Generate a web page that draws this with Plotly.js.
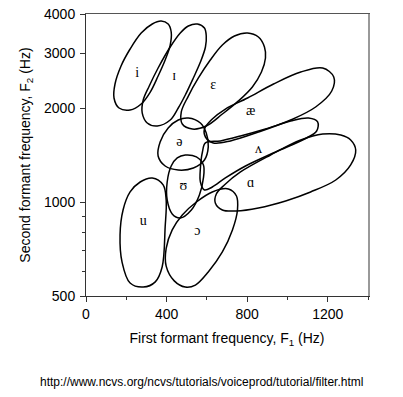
<!DOCTYPE html>
<html><head><meta charset="utf-8">
<script src="https://cdn.plot.ly/plotly-3.0.1.min.js"></script>
<style>body{margin:0;background:#fff}</style>
</head><body>
<div id="chart" style="width:403px;height:397px"></div>
<script>
// Vowel regions: first formant F1 (Hz) and second formant F2 (Hz) outline points
const i_F1 = [373,408,423,418,393,358,319,274,219,164,139,144,174,219,274,329];
const i_F2 = [3798,3716,3503,3182,2849,2532,2250,2060,1971,2000,2153,2387,2726,3090,3477,3716];

const smallI_F1 = [553,588,597,593,568,533,493,458,418,354,304,279,284,314,358,418,468,508];
const smallI_F2 = [3716,3607,3400,3136,2806,2496,2201,2000,1830,1751,1790,1928,2122,2353,2686,3136,3477,3661];

const eps_F1 = [802,856,886,891,871,826,757,677,597,528,478,473,508,558,617,677,737];
const eps_F2 = [3477,3375,3136,2892,2607,2336,2107,1913,1751,1713,1777,1942,2184,2496,2849,3182,3400];

const ae_F1 = [593,588,627,692,802,931,1066,1175,1230,1220,1140,1016,856,717,632];
const ae_F2 = [1615,1713,1844,1985,2153,2387,2607,2686,2514,2267,2015,1830,1675,1569,1546];

const wedge_F1 = [593,667,767,891,1016,1105,1150,1145,1095,941,792,692,627,588,568,568,578];
const wedge_F2 = [1546,1569,1627,1713,1817,1857,1804,1688,1603,1446,1304,1194,1117,1093,1159,1285,1446];

const scriptA_F1 = [1314,1339,1314,1240,1115,991,856,747,677,642,647,687,767,916,1066,1175,1265];
const scriptA_F2 = [1580,1467,1314,1176,1077,1008,957,936,943,993,1061,1134,1248,1414,1580,1651,1639];

const schwa_F1 = [508,568,597,607,588,533,458,393,358,368,408,458];
const schwa_F2 = [1857,1790,1664,1501,1363,1285,1266,1304,1404,1557,1726,1830];

const upsilon_F1 = [493,548,583,583,563,523,468,428,403,403,423,453];
const upsilon_F2 = [1414,1394,1314,1194,1053,943,889,916,1015,1159,1304,1384];

const u_F1 = [329,383,398,393,378,344,284,219,179,169,184,219,269];
const u_F2 = [1194,1134,1015,832,619,555,534,550,642,784,943,1077,1159];

const openO_F1 = [707,747,752,727,677,607,543,493,438,398,398,428,478,548,627];
const openO_F2 = [1101,1045,943,814,692,597,542,534,559,623,711,814,909,1000,1077];

// Vowel symbols and their positions
const labelText = ['i','ɪ','ɛ','æ','ə','ʌ','ʊ','ɑ','u','ɔ'];
const labelF1 = [254,438,632,817,463,856,483,817,284,553];
const labelF2 = [2588,2514,2353,1956,1546,1478,1117,1150,863,802];

// Axis ticks
const xTickVals = [0,400,800,1200];
const xMinorVals = [200,600,1000,1400];
const yTickVals = [500,1000,2000,3000,4000];
const yTickText = ['500','1000','2000','3000','4000'];
const yMinorVals = [600,700,800,900];

const regions = [
  [i_F1,i_F2],[smallI_F1,smallI_F2],[eps_F1,eps_F2],[ae_F1,ae_F2],
  [wedge_F1,wedge_F2],[scriptA_F1,scriptA_F2],[schwa_F1,schwa_F2],
  [upsilon_F1,upsilon_F2],[u_F1,u_F2],[openO_F1,openO_F2]
];

const traces = regions.map(([xs,ys]) => ({
  type:'scatter', mode:'lines',
  x: xs.concat([xs[0]]), y: ys.concat([ys[0]]),
  line:{color:'#000', width:1.5, shape:'spline', smoothing:1},
  hoverinfo:'skip', showlegend:false
}));

traces.push({
  type:'scatter', mode:'text', x: labelF1, y: labelF2, text: labelText,
  textfont:{family:'Liberation Serif, DejaVu Serif, serif', size:14, color:'#000'},
  hoverinfo:'skip', showlegend:false
});
traces.push({type:'scatter', mode:'lines', x:[], y:[], xaxis:'x2', yaxis:'y2', showlegend:false, hoverinfo:'skip'});

const fontFam = 'Liberation Sans, Arial, Helvetica, sans-serif';
const layout = {
  width:403, height:397,
  margin:{l:86, r:35, t:14, b:101, pad:0},
  paper_bgcolor:'#fff', plot_bgcolor:'#fff',
  showlegend:false,
  font:{family:fontFam, color:'#000', size:14},
  xaxis:{
    range:[0,1400], tickvals:xTickVals, ticks:'outside', ticklen:5, tickwidth:1, tickcolor:'#333',
    showline:true, linecolor:'#333', linewidth:1, showgrid:false, zeroline:false,
    tickfont:{family:fontFam, size:14, color:'#000'},
    minor:{tickvals:xMinorVals, ticks:'outside', ticklen:3, tickcolor:'#333', showgrid:false},
    title:{text:'First formant frequency, F<sub>1</sub> (Hz)', font:{family:fontFam, size:14, color:'#000'}, standoff:12},
    automargin:false
  },
  yaxis:{
    type:'log', range:[Math.log10(500), Math.log10(4000)], tickvals:yTickVals, ticktext:yTickText,
    ticks:'outside', ticklen:5, tickwidth:1, tickcolor:'#333', ticklabelstandoff:2,
    showline:true, linecolor:'#333', linewidth:1, showgrid:false, zeroline:false,
    tickfont:{family:fontFam, size:14, color:'#000'},
    minor:{tickvals:yMinorVals, ticks:'outside', ticklen:3, tickcolor:'#333', showgrid:false},
    title:{text:'Second formant frequency, F<sub>2</sub> (Hz)', font:{family:fontFam, size:14, color:'#000'}, standoff:10},
    automargin:false
  },
  xaxis2:{overlaying:'x', side:'top', range:[0,1400], showline:true, linecolor:'#555', linewidth:1,
    ticks:'', showticklabels:false, showgrid:false, zeroline:false, anchor:'y2'},
  yaxis2:{overlaying:'y', side:'right', type:'log', range:[Math.log10(500), Math.log10(4000)], showline:true,
    linecolor:'#999', linewidth:2, ticks:'', showticklabels:false, showgrid:false, zeroline:false, anchor:'x2'},
  annotations:[{
    xref:'paper', yref:'paper', x:0.408, y:-0.305, xanchor:'center', yanchor:'middle',
    text:'http://www.ncvs.org/ncvs/tutorials/voiceprod/tutorial/filter.html',
    showarrow:false, font:{family:fontFam, size:12, color:'#000'}
  }]
};

Plotly.newPlot('chart', traces, layout, {staticPlot:true, displayModeBar:false});
</script>
</body></html>
